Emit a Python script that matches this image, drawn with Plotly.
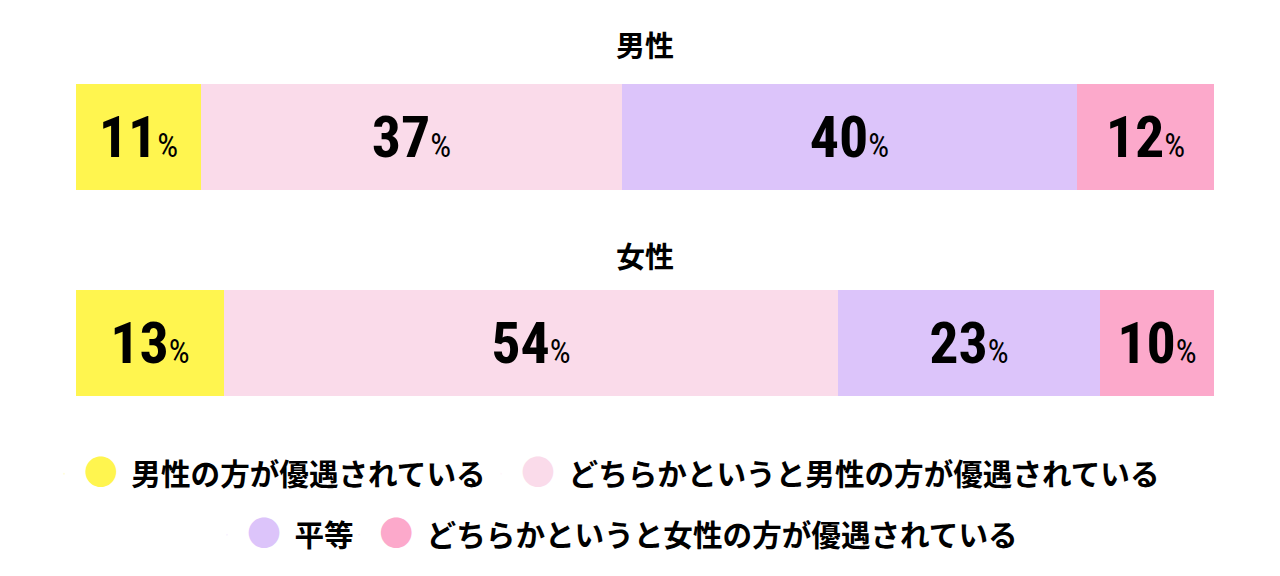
import plotly.graph_objects as go

# ── data ──────────────────────────────────────────────────────────────────────
groups = ["男性", "女性"]
answers = [
    "男性の方が優遇されている",
    "どちらかというと男性の方が優遇されている",
    "平等",
    "どちらかというと女性の方が優遇されている",
]
shares = [
    [11, 13],
    [37, 54],
    [40, 23],
    [12, 10],
]
colors = ["#fff54f", "#fadbea", "#dcc4fa", "#fca9cb"]

JP_FONT = "Noto Sans CJK JP, Noto Sans, sans-serif"
NUM_FONT = "Roboto Condensed, Roboto, DejaVu Sans Condensed, sans-serif"
LEGEND_SIZE = 29.6

fig = go.Figure()

# how much to pull the second entry of each legend row towards the first
row_tighten = {0: 9, 2: 18}

for i, (name, vals, col) in enumerate(zip(answers, shares, colors)):
    fig.add_trace(go.Bar(
        x=vals, y=groups, orientation="h",
        marker=dict(color=col, line=dict(width=0)),
        width=0.515,
        texttemplate="%{x}<span style='font-size:33px;font-weight:400'>%</span>",
        textposition="inside", insidetextanchor="middle", textangle=0,
        constraintext="none",
        insidetextfont=dict(family=NUM_FONT, size=58, color="#000000", weight="bold"),
        showlegend=False, hoverinfo="skip",
    ))
    # legend entry: big coloured dot drawn as part of the label
    label = f"<span style='color:{col};font-size:34px'>●</span>&nbsp;&nbsp;{name}"
    lw = None
    if i in row_tighten:
        lw = len(name) * LEGEND_SIZE + 46 - row_tighten[i]
    fig.add_trace(go.Scatter(
        x=[None], y=[None], mode="markers", name=label,
        marker=dict(color=col, size=1, opacity=0),
        legend="legend" if i < 2 else "legend2",
        legendwidth=lw,
        hoverinfo="skip",
    ))

# group titles above each bar
title_shift = {"男性": 93, "女性": 88}
for g in groups:
    fig.add_annotation(
        x=0.5, xref="paper", y=g, yref="y", yshift=title_shift[g],
        text=g, showarrow=False,
        font=dict(family=JP_FONT, size=29, color="#000000", weight="bold"),
    )

legend_style = dict(
    orientation="h", xanchor="left", yanchor="middle",
    font=dict(family=JP_FONT, size=LEGEND_SIZE, color="#000000", weight="bold"),
    itemwidth=30, bgcolor="rgba(0,0,0,0)", traceorder="normal",
)

fig.update_layout(
    width=1280, height=576,
    barmode="stack",
    paper_bgcolor="white", plot_bgcolor="white",
    margin=dict(l=76, r=66, t=34, b=130),
    xaxis=dict(range=[0, 100], visible=False, fixedrange=True),
    yaxis=dict(
        categoryorder="array", categoryarray=groups,
        range=[1.5, -0.5], visible=False, fixedrange=True,
    ),
    bargap=0,
    legend=dict(x=-0.0282, y=-0.068, **legend_style),
    legend2=dict(x=0.1151, y=-0.216, **legend_style),
)

fig.write_html(
    "out.html",
    config={"displayModeBar": False},
    post_script="document.body.style.margin='0';",
)
